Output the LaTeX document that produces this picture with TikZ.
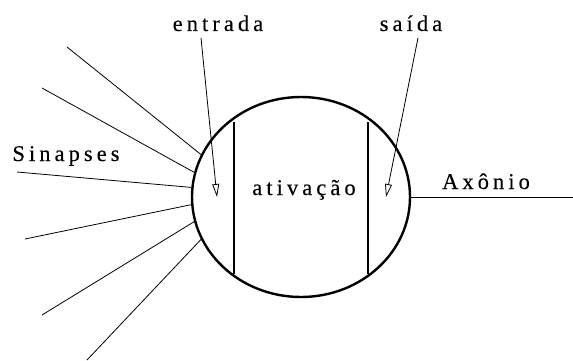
\documentclass[tikz,border=0pt]{standalone}
\usepackage{fontspec}
\setmainfont{Liberation Serif}[LetterSpace=18, FakeBold=0.25]
\usetikzlibrary{shapes.geometric,arrows.meta}
\tikzset{
  lbl/.style={anchor=base, inner sep=0pt, font=\fontsize{22.5}{27}\selectfont},
  cellbody/.style={draw, ellipse, line width=2.4pt, minimum width=218pt, minimum height=200pt, inner sep=0pt},
  wall/.style={line width=2.4pt},
  thin/.style={line width=0.8pt},
  pointer/.style={line width=0.8pt, -{Triangle[open, length=13pt, width=7pt, fill=white]}}
}
\begin{document}
\begin{tikzpicture}[x=1pt, y=-1pt]
\useasboundingbox (0,0) rectangle (573,361);
\node[cellbody] (cell) at (301,197) {};
% walls
\coordinate (w1t) at (234,122); \coordinate (w1b) at (234,274);
\coordinate (w2t) at (368,122); \coordinate (w2b) at (368,274);
\draw[wall] (w1t) -- (w1b);
\draw[wall] (w2t) -- (w2b);
% synapses
\coordinate (s1) at (67,47);
\coordinate (s2) at (42,88);
\coordinate (s3) at (17,172);
\coordinate (s4) at (25,239);
\coordinate (s5) at (42,315);
\coordinate (s6) at (87,360);
\draw[thin] (s1) -- (cell.157.4);
\draw[thin] (s2) -- (cell.167);
\draw[thin] (s3) -- (cell.175.4);
\draw[thin] (s4) -- (cell.184.7);
\draw[thin] (s5) -- (cell.193);
\draw[thin] (s6) -- (cell.203);
% axon
\coordinate (axend) at (573,197);
\draw[thin] (cell.east) -- (axend);
% labels
\node[lbl] (entrada) at (218,31) {entrada};
\node[lbl] (saida) at (411,31) {saída};
\node[lbl] (sinapses) at (66,161) {Sinapses};
\node[lbl] (ativacao) at (304,195) {ativação};
\node[lbl] (axonio) at (486,189) {Axônio};
% arrows
\coordinate (ein) at (217,197);
\coordinate (sout) at (386,197);
\coordinate (es) at (201,38);
\coordinate (ss) at (418,38);
\draw[pointer] (es) -- (ein);
\draw[pointer] (ss) -- (sout);
\end{tikzpicture}
\end{document}
